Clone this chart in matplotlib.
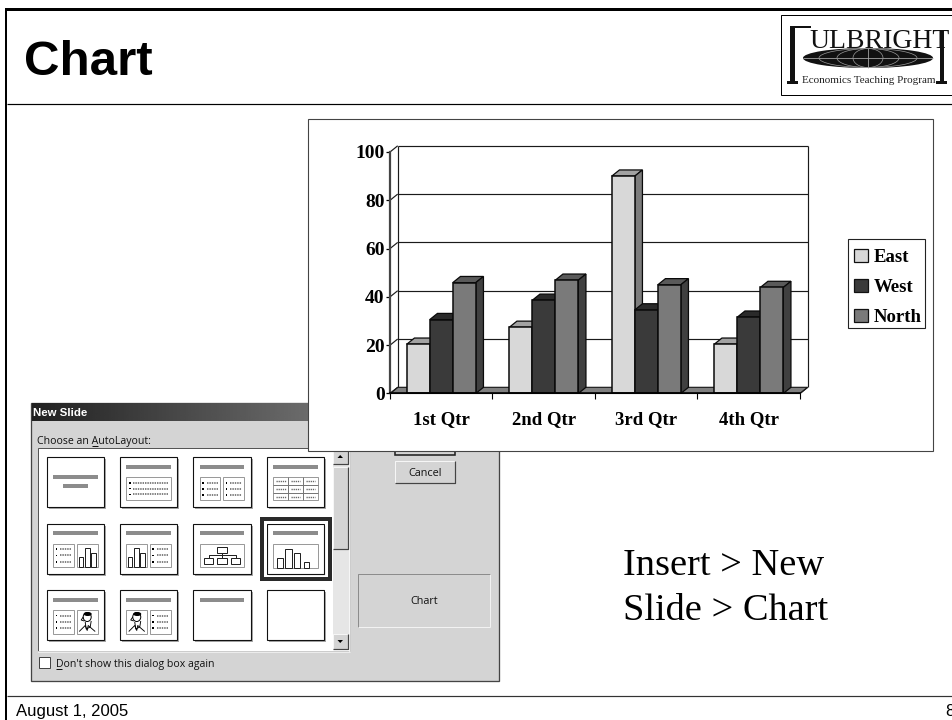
import numpy as np
import matplotlib
matplotlib.use("Agg")
import matplotlib.pyplot as plt
from matplotlib.patches import Rectangle, Polygon, Patch, Ellipse

categories = ["1st Qtr", "2nd Qtr", "3rd Qtr", "4th Qtr"]
east = [20.4, 27.4, 90, 20.4]
west = [30.6, 38.6, 34.6, 31.6]
north = [45.9, 46.9, 45, 43.9]
series_names = ["East", "West", "North"]
y_ticks = [0, 20, 40, 60, 80, 100]

W, H = 953, 720
SERIF = "Liberation Serif"
SANS = "Liberation Sans"
UI = "Open Sans"
PX = 0.72

fig = plt.figure(figsize=(W / 100, H / 100), dpi=100, facecolor="white")
bg = fig.add_axes([0, 0, 1, 1], zorder=0)
bg.set_axis_off()

def rect(x0, y0, x1, y1, fc="none", ec="none", lw=1.0, z=2, **kw):
    p = Rectangle((x0, y0), x1 - x0, y1 - y0, facecolor=fc, edgecolor=ec, linewidth=lw * PX, zorder=z, **kw)
    bg.add_patch(p)
    return p

def line(xs, ys, c="black", lw=1.0, z=3, **kw):
    bg.plot(xs, ys, color=c, linewidth=lw * PX, zorder=z, solid_capstyle="butt", **kw)

# ---------- slide frame ----------
rect(5, 8, W, 11, fc="black", z=1)
rect(5, 8, 7.5, H, fc="black", z=1)
line([7, W], [103.5, 103.5], lw=1.2, z=1)
line([7, W], [695.5, 695.5], c="#333333", lw=1.2, z=1)
bg.text(24.5, 75, "Chart", family=SANS, weight="bold", fontsize=35.5, color="black", va="baseline", zorder=2)
bg.text(16, 716, "August 1, 2005", family=SANS, fontsize=12, color="black", va="baseline", zorder=2)
bg.text(945.5, 716, "8", family=SANS, fontsize=12, color="black", va="baseline", zorder=2)

# ---------- logo ----------
rect(781, 15, W + 2, 95, fc="white", ec="black", lw=1.0, z=1)
rect(790.5, 26, 795, 82, fc="#111111", z=2)
rect(787, 81, 798, 83.5, fc="#111111", z=2)
rect(790.5, 26, 811, 28, fc="#111111", z=2)
rect(940, 30, 944, 82, fc="#111111", z=2)
rect(936.5, 81, 947.5, 83.5, fc="#111111", z=2)
bg.text(809, 48, "ULBRIGHT", family=SERIF, fontsize=20, color="#111111", va="baseline", zorder=2)
el = Ellipse((868, 58), 130, 20, facecolor="#111111", edgecolor="none", zorder=2)
bg.add_patch(el)
line([803, 933], [58, 58], c="#aaaaaa", lw=0.8)
line([868, 868], [48, 68], c="#aaaaaa", lw=0.8)
for w_ in (30, 62, 98):
    bg.add_patch(Ellipse((868, 58), w_, 19, facecolor="none", edgecolor="#999999", linewidth=0.5, zorder=3))
bg.text(802, 83, "Economics Teaching Program", family=SERIF, fontsize=8, color="#222222", va="baseline", zorder=2)

# ---------- dialog ----------
DZ = 2
rect(31, 403, 499, 680.5, fc="#D4D4D4", ec="#444444", lw=1.3, z=DZ)
grad = np.linspace(0.13, 0.62, 256).reshape(1, -1)
bg.imshow(grad, extent=(32, 498, 421, 403), aspect="auto", cmap="gray", vmin=0, vmax=1, zorder=DZ + 0.1)
bg.text(33, 416, "New Slide", family=SANS, weight="bold", fontsize=8.2, color="white", va="baseline", zorder=DZ + 1)
bg.text(37.5, 444, "Choose an AutoLayout:", family=UI, fontsize=7.6, color="#111111", va="baseline", zorder=DZ + 1)
line([92, 98], [445.5, 445.5], c="#111111", lw=1, z=DZ + 1)

rect(38.5, 448, 350.5, 650.5, fc="white", ec="#555555", lw=1, z=DZ + 0.2)
line([350.5, 350.5, 38.5], [448, 651.5, 651.5], c="#F4F4F4", lw=1.5, z=DZ + 0.3)

# scrollbar
rect(333, 449, 349, 650, fc="#E6E6E6", z=DZ + 0.3)
def button(x0, y0, x1, y1, z=DZ + 0.4):
    rect(x0, y0, x1, y1, fc="#D4D4D4", z=z)
    line([x0, x0, x1], [y1, y0, y0], c="#F6F6F6", lw=1, z=z + 0.1)
    line([x0, x1, x1], [y1, y1, y0], c="#444444", lw=1.2, z=z + 0.1)
button(333, 449, 348, 464)
button(333, 467, 348, 549)
button(333, 634, 348, 649)
bg.add_patch(Polygon([[337.5, 458], [343, 458], [340.2, 455]], facecolor="black", zorder=DZ + 1))
bg.add_patch(Polygon([[337.5, 640], [343, 640], [340.2, 643]], facecolor="black", zorder=DZ + 1))

# buttons
rect(395, 440, 455, 454.5, fc="#D4D4D4", ec="#222222", lw=1.6, z=DZ + 0.4)
button(395, 461, 455, 483)
bg.text(425, 475.5, "Cancel", family=UI, fontsize=7.8, color="#111111", ha="center", va="baseline", zorder=DZ + 1)
rect(358.5, 573.5, 490.5, 627, fc="#D4D4D4", ec="#8C8C8C", lw=1, z=DZ + 0.3)
line([358.5, 490.5, 490.5], [627, 627, 573.5], c="#F2F2F2", lw=1, z=DZ + 0.4)
bg.text(424.5, 604, "Chart", family=UI, fontsize=7.8, color="#111111", ha="center", va="baseline", zorder=DZ + 1)

# checkbox
rect(39.5, 657, 50, 668, fc="white", ec="#444444", lw=1, z=DZ + 0.3)
bg.text(56, 667, "Don't show this dialog box again", family=UI, fontsize=7.6, color="#111111", va="baseline", zorder=DZ + 1)
line([56, 62], [668.5, 668.5], c="#111111", lw=1, z=DZ + 1)

TZ = DZ + 0.5
GR = "#8C8C8C"
def thumb(x, y, w=57.3, h=50):
    rect(x + 2, y + 2, x + w + 2, y + h + 2, fc="#A8A8A8", z=TZ)
    rect(x, y, x + w, y + h, fc="white", ec="#111111", lw=1.1, z=TZ + 0.01)

def title_bar(x, y, dy=7.5):
    rect(x + 6.5, y + dy, x + 51, y + dy + 4, fc=GR, z=TZ + 0.02)

def panel(x0, y0, x1, y1):
    rect(x0, y0, x1, y1, fc="white", ec="#9A9A9A", lw=1, z=TZ + 0.02)

def bullets(x0, y0, x1, y1, n=3):
    ys = np.linspace(y0 + 5.5, y1 - 5.5, n)
    for yy in ys:
        rect(x0 + 2.5, yy - 0.8, x0 + 4.2, yy + 0.8, fc="black", z=TZ + 0.03)
        line([x0 + 7, x1 - 2.5], [yy, yy], c="#666666", lw=1.6, z=TZ + 0.03, dashes=(0.9, 0.6))

def bars(x0, y1, widths, heights, gaps):
    cx = x0
    for wd, ht, gap in zip(widths, heights, gaps):
        rect(cx, y1 - ht, cx + wd, y1, fc="white", ec="#222222", lw=1, z=TZ + 0.03)
        cx += wd + gap

def person(x0, y0, x1, y1):
    cx = (x0 + x1) / 2
    cy = y0 + 7
    bg.add_patch(Ellipse((cx, cy), 8, 9, facecolor="white", edgecolor="black", linewidth=0.7, zorder=TZ + 0.03))
    bg.add_patch(Ellipse((cx + 0.5, cy - 3), 8, 4, facecolor="black", zorder=TZ + 0.04))
    line([cx - 4, cx - 6, cx - 3], [cy, cy + 3, cy + 4], c="black", lw=0.9, z=TZ + 0.04)
    line([cx - 2, cx - 1, cx + 3, cx + 4], [cy + 5, cy + 12, cy + 10, cy + 4], c="black", lw=0.9, z=TZ + 0.04)
    line([cx - 8, cx - 2, cx, cx + 1, cx + 8], [y1 - 2, y1 - 8, y1 - 3, y1 - 8, y1 - 2], c="black", lw=0.9, z=TZ + 0.04)

cols = [46.7, 120, 193.3, 266.7]
rows = [457.3, 523.7, 590]

for r in rows:
    for c in cols:
        thumb(c, r)

# row 1
x, y = cols[0], rows[0]
rect(x + 6.5, y + 18, x + 51, y + 22, fc=GR, z=TZ + 0.02)
rect(x + 16, y + 27, x + 41.5, y + 31, fc=GR, z=TZ + 0.02)
x = cols[1]
title_bar(x, y); panel(x + 6.5, y + 20, x + 51, y + 42.5); bullets(x + 6.5, y + 20, x + 51, y + 42.5)
x = cols[2]
title_bar(x, y)
panel(x + 6.5, y + 20, x + 27, y + 43); bullets(x + 6.5, y + 20, x + 27, y + 43)
panel(x + 30, y + 20, x + 51, y + 43); bullets(x + 30, y + 20, x + 51, y + 43)
x = cols[3]
title_bar(x, y); panel(x + 6.5, y + 19.5, x + 51, y + 43)
for gx in (x + 21, x + 36):
    line([gx, gx], [y + 19.5, y + 43], c="#777777", lw=1, z=TZ + 0.03)
for gy in (y + 27.3, y + 35.2):
    line([x + 6.5, x + 51], [gy, gy], c="#777777", lw=1, z=TZ + 0.03)
for gy in (y + 23.3, y + 31.3, y + 39.2):
    for a, b in ((x + 9, x + 19), (x + 24, x + 33), (x + 39, x + 48.5)):
        line([a, b], [gy, gy], c="#666666", lw=1.4, z=TZ + 0.03, dashes=(0.9, 0.6))

# row 2
y = rows[1]
x = cols[0]
title_bar(x, y)
panel(x + 6.5, y + 20, x + 27, y + 43.5); bullets(x + 6.5, y + 20, x + 27, y + 43.5)
panel(x + 30, y + 20, x + 51, y + 43.5)
bars(x + 32.6, y + 43.5, (4, 5, 5), (10, 19, 14), (1.7, 1, 0))
x = cols[1]
title_bar(x, y)
panel(x + 6.5, y + 20, x + 27, y + 43.5)
bars(x + 8.3, y + 43.5, (4, 5, 5), (10, 19, 14), (1.7, 1, 0))
panel(x + 30, y + 20, x + 51, y + 43.5); bullets(x + 30, y + 20, x + 51, y + 43.5)
x = cols[2]
title_bar(x, y)
panel(x + 6.5, y + 20, x + 51, y + 43.5)
for a, b, t in ((x + 24, x + 34, y + 23), (x + 11, x + 20, y + 34), (x + 24, x + 34, y + 34), (x + 38, x + 47, y + 34)):
    rect(a, t, b, t + 6, fc="white", ec="#222222", lw=1, z=TZ + 0.03)
line([x + 29, x + 29], [y + 29, y + 34], c="#222222", z=TZ + 0.03)
line([x + 15.5, x + 15.5, x + 42.5, x + 42.5], [y + 34, y + 31.5, y + 31.5, y + 34], c="#222222", z=TZ + 0.03)
x = cols[3]
title_bar(x, y)
panel(x + 6.5, y + 20, x + 51, y + 44)
bars(x + 10, y + 44, (6.6, 6.7, 6, 5.3), (10, 18.7, 14.3, 5.3), (1.7, 2.3, 4, 0))
rect(x - 4.5, y - 4.5, x + 63, y + 55.5, fc="none", ec="#2A2A2A", lw=4.0, z=TZ + 0.05)
rect(x - 1.0, y - 1.0, x + 59, y + 52.5, fc="none", ec="white", lw=1.6, z=TZ + 0.04)

# row 3
y = rows[2]
x = cols[0]
title_bar(x, y)
panel(x + 6.5, y + 20, x + 27, y + 43.5); bullets(x + 6.5, y + 20, x + 27, y + 43.5)
panel(x + 30, y + 20, x + 51, y + 43.5); person(x + 30, y + 20, x + 51, y + 43.5)
x = cols[1]
title_bar(x, y)
panel(x + 6.5, y + 20, x + 27, y + 43.5); person(x + 6.5, y + 20, x + 27, y + 43.5)
panel(x + 30, y + 20, x + 51, y + 43.5); bullets(x + 30, y + 20, x + 51, y + 43.5)
x = cols[2]
title_bar(x, y)

# ---------- chart panel ----------
rect(308, 119, 933, 451, fc="white", ec="#444444", lw=1.1, z=5)
rect(848.3, 239, 925.3, 328.3, fc="white", ec="#222222", lw=1.1, z=5.5)

# instructions
bg.text(623, 575, "Insert > New", family=SERIF, fontsize=27.6, color="black", va="baseline", zorder=6)
bg.text(623, 620, "Slide > Chart", family=SERIF, fontsize=27.6, color="black", va="baseline", zorder=6)

bg.set_xlim(0, W)
bg.set_ylim(H, 0)

# ---------- 3-D column chart ----------
X0, X1, Y_TOP, Y_BOT = 390, 800, 152, 393.5
ax = fig.add_axes([X0 / W, 1 - Y_BOT / H, (X1 - X0) / W, (Y_BOT - Y_TOP) / H], zorder=3)
ax.patch.set_alpha(0)
ax.set_xlim(0, len(categories))
ax.set_ylim(0, 100)

DX = 7.7 * len(categories) / (X1 - X0)
DY = 6.2 * 100 / (Y_BOT - Y_TOP)
n = len(categories)

# floor and back wall
ax.add_patch(Polygon([[0, 0], [DX, DY], [n + DX, DY], [n, 0]], closed=True, facecolor="#808080",
                     edgecolor="#111111", linewidth=0.8, zorder=1, clip_on=False))
GL = dict(color="#1A1A1A", linewidth=0.85, zorder=1.5, clip_on=False, solid_capstyle="butt")
for v in y_ticks[1:]:
    ax.plot([DX, n + DX], [v + DY, v + DY], **GL)
    ax.plot([0, DX], [v, v + DY], **GL)
ax.plot([0, DX], [0, DY], **GL)
ax.plot([DX, DX], [DY, 100 + DY], **GL)
ax.plot([n + DX, n + DX], [DY, 100 + DY], **GL)
ax.plot([n, n + DX], [0, DY], **GL)

bar_w = 0.2244
xs = np.arange(n) + 0.5
styles = [("#D8D8D8", "#A2A2A2", "#7C7C7C"),
          ("#3A3A3A", "#2A2A2A", "#2E2E2E"),
          ("#7A7A7A", "#5A5A5A", "#404040")]
for j, (vals, (front, top, side)) in enumerate(zip((east, west, north), styles)):
    pos = xs + (j - 1) * bar_w
    z = 3 + j
    ax.bar(pos, vals, width=bar_w, color=front, edgecolor="#0A0A0A", linewidth=1.1, zorder=z + 0.2, clip_on=False)
    for p, v in zip(pos, vals):
        l, r = p - bar_w / 2, p + bar_w / 2
        ax.add_patch(Polygon([[l, v], [l + DX, v + DY], [r + DX, v + DY], [r, v]], closed=True, facecolor=top,
                             edgecolor="#0A0A0A", linewidth=0.9, zorder=z, clip_on=False))
        ax.add_patch(Polygon([[r, 0], [r + DX, DY], [r + DX, v + DY], [r, v]], closed=True, facecolor=side,
                             edgecolor="#0A0A0A", linewidth=0.9, zorder=z, clip_on=False))

for s in ("top", "right"):
    ax.spines[s].set_visible(False)
ax.spines["left"].set_color("#444444")
ax.spines["left"].set_linewidth(1.6)
ax.spines["left"].set_zorder(2)
ax.spines["bottom"].set_color("black")
ax.spines["bottom"].set_linewidth(1.2)
ax.spines["bottom"].set_zorder(8)

ax.set_yticks(y_ticks)
ax.set_yticklabels([str(v) for v in y_ticks], family=SERIF, weight="bold", fontsize=14, color="black")
ax.tick_params(axis="y", length=3, width=0.9, pad=0.8, color="black")
ax.set_xticks(np.arange(n + 1))
ax.set_xticklabels([])
ax.tick_params(axis="x", which="major", length=4, width=0.8, color="black")
ax.set_xticks(xs, minor=True)
ax.set_xticklabels(categories, minor=True, family=SERIF, weight="bold", fontsize=13.5, color="black")
ax.tick_params(axis="x", which="minor", length=0, pad=12.5)

handles = [Patch(facecolor=s[0], edgecolor="#111111", linewidth=0.9) for s in styles]
leg = ax.legend(handles, series_names, loc="upper left", bbox_to_anchor=(848.3 / W, 1 - 243 / H),
                bbox_transform=fig.transFigure, borderaxespad=0, frameon=False,
                handlelength=0.75, handleheight=0.75,
                handletextpad=0.3, labelspacing=0.67, borderpad=0.3,
                prop={"family": SERIF, "weight": "bold", "size": 13.5})
leg.set_zorder(10)

fig.savefig("out.png", dpi=100)
